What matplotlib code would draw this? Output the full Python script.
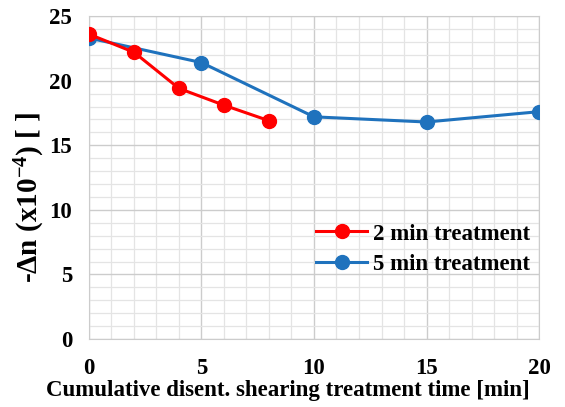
import matplotlib.pyplot as plt
from matplotlib.ticker import MultipleLocator

plt.rcParams['font.family'] = ['Liberation Serif', 'DejaVu Serif']
plt.rcParams['font.weight'] = 'bold'
plt.rcParams['mathtext.fontset'] = 'custom'
plt.rcParams['mathtext.rm'] = 'Liberation Serif:bold'
plt.rcParams['mathtext.default'] = 'rm'

# data
t_2min = [0, 2, 4, 6, 8]
dn_2min = [23.6, 22.2, 19.4, 18.1, 16.9]
t_5min = [0, 5, 10, 15, 20]
dn_5min = [23.3, 21.4, 17.2, 16.8, 17.6]

fig = plt.figure(figsize=(5.65, 4.07), dpi=100)
ax = fig.add_axes([0.1575, 0.167, 0.7965, 0.7935])

ax.plot(t_2min, dn_2min, color='#ff0000', marker='o', markersize=10, linewidth=2.2,
        label='2 min treatment', zorder=4)
ax.plot(t_5min, dn_5min, color='#1f72bd', marker='o', markersize=10, linewidth=2.2,
        label='5 min treatment', zorder=3)

ax.set_xlim(0, 20)
ax.set_ylim(0, 25)
ax.xaxis.set_major_locator(MultipleLocator(5))
ax.xaxis.set_minor_locator(MultipleLocator(1))
ax.yaxis.set_major_locator(MultipleLocator(5))
ax.yaxis.set_minor_locator(MultipleLocator(1))
ax.grid(which='major', color='#cccccc', linewidth=1.0)
ax.grid(which='minor', color='#e4e4e4', linewidth=0.9)
ax.set_axisbelow(True)
ax.tick_params(which='both', length=0, labelsize=16.5)
ax.tick_params(axis='x', pad=14)
ax.tick_params(axis='y', pad=12)
for s in ax.spines.values():
    s.set_color('#cccccc')

ax.set_xlabel('Cumulative disent. shearing treatment time [min]', fontsize=16.5,
              fontweight='bold', labelpad=0.5, x=0.442)
ax.set_ylabel(r'-Δn (x10$^{-4}$) [ ]', fontsize=21, fontweight='bold', labelpad=2, y=0.44)

ax.legend(loc='center left', bbox_to_anchor=(0.559, 0.388), bbox_transform=fig.transFigure,
          frameon=False, fontsize=16.5, borderpad=0, borderaxespad=0,
          handlelength=2.25, handletextpad=0.25, labelspacing=0.4)

fig.savefig('out.png', dpi=100)
